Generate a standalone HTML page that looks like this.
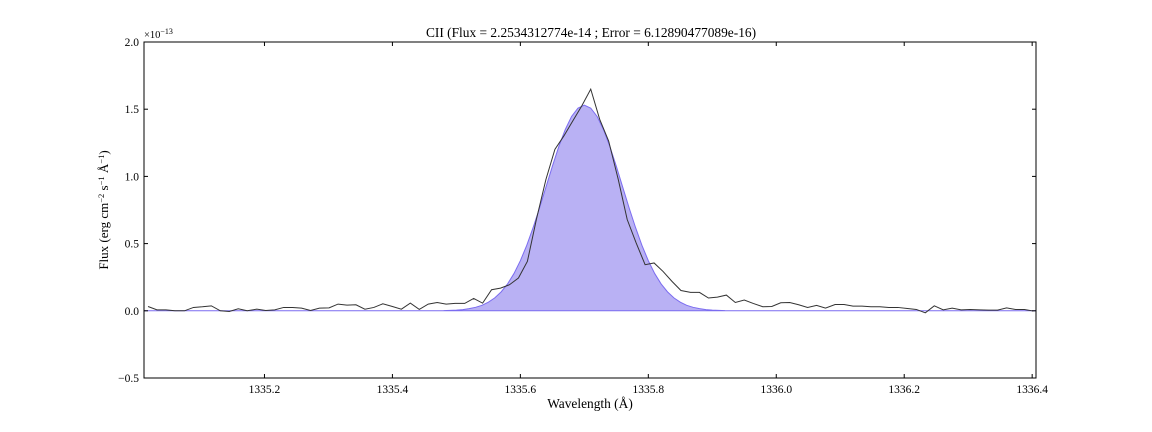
<!DOCTYPE html>
<html><head><meta charset="utf-8"><style>
body{margin:0;background:#fff}
svg{display:block;font-family:"Liberation Serif","DejaVu Serif",serif}
</style></head><body>
<svg id="chart" width="1152" height="432" viewBox="0 0 1152 432" xmlns="http://www.w3.org/2000/svg">
<rect width="1152" height="432" fill="#fff"/>
<defs><clipPath id="plotclip"><rect x="144" y="42" width="892" height="336"/></clipPath></defs>
<text x="591" y="37" font-size="13.4" text-anchor="middle">CII (Flux = 2.2534312774e-14 ; Error = 6.12890477089e-16)</text>
<text x="144" y="38" font-size="10.5">×10<tspan dy="-4" font-size="8">−13</tspan></text>
<g id="plot" clip-path="url(#plotclip)"></g>
<g id="axes"></g>
<text x="590" y="408" font-size="13.4" text-anchor="middle">Wavelength (Å)</text>
<text transform="translate(108,210) rotate(-90)" font-size="13" text-anchor="middle">Flux (erg cm<tspan dy="-4" font-size="8.5">−2</tspan><tspan dy="4"> s</tspan><tspan dy="-4" font-size="8.5">−1</tspan><tspan dy="4"> Å</tspan><tspan dy="-4" font-size="8.5">−1</tspan><tspan dy="4">)</tspan></text>
</svg>
<script>
const wavelengths=[1335.018,1335.032,1335.046,1335.060,1335.075,1335.089,1335.103,1335.117,1335.131,1335.145,1335.159,1335.173,1335.188,1335.202,1335.216,1335.230,1335.244,1335.258,1335.272,1335.286,1335.301,1335.315,1335.329,1335.343,1335.357,1335.371,1335.385,1335.400,1335.414,1335.428,1335.442,1335.456,1335.470,1335.484,1335.498,1335.513,1335.527,1335.541,1335.555,1335.569,1335.583,1335.597,1335.611,1335.625,1335.640,1335.654,1335.668,1335.682,1335.696,1335.710,1335.724,1335.738,1335.753,1335.767,1335.781,1335.795,1335.809,1335.823,1335.837,1335.851,1335.866,1335.880,1335.894,1335.908,1335.922,1335.936,1335.950,1335.964,1335.979,1335.993,1336.007,1336.021,1336.035,1336.049,1336.063,1336.077,1336.092,1336.106,1336.120,1336.134,1336.148,1336.162,1336.176,1336.190,1336.205,1336.219,1336.233,1336.247,1336.261,1336.275,1336.289,1336.303,1336.318,1336.332,1336.346,1336.360,1336.374,1336.388,1336.402];
const fluxValues=[0.032,0.007,0.007,0,0,0.025,0.030,0.037,0,-0.005,0.015,0,0.012,0.002,0.007,0.025,0.025,0.020,0.002,0.020,0.022,0.050,0.042,0.045,0.012,0.025,0.052,0.032,0.012,0.057,0.010,0.050,0.062,0.050,0.055,0.055,0.092,0.057,0.157,0.169,0.194,0.244,0.368,0.679,0.978,1.201,1.301,1.413,1.525,1.649,1.425,1.263,0.978,0.679,0.505,0.343,0.356,0.293,0.219,0.151,0.137,0.137,0.095,0.102,0.117,0.062,0.080,0.055,0.030,0.032,0.060,0.062,0.045,0.025,0.040,0.020,0.047,0.047,0.035,0.035,0.030,0.030,0.025,0.025,0.017,0.010,-0.015,0.037,0.007,0.020,0.007,0.010,0.007,0.005,0.005,0.022,0.010,0.010,-0.002];
const modelWavelengths=[1335.00,1335.45,1335.48,1335.50,1335.51,1335.52,1335.53,1335.54,1335.55,1335.56,1335.57,1335.58,1335.59,1335.60,1335.61,1335.62,1335.63,1335.64,1335.65,1335.66,1335.67,1335.68,1335.69,1335.70,1335.71,1335.72,1335.73,1335.74,1335.75,1335.76,1335.77,1335.78,1335.79,1335.80,1335.81,1335.82,1335.83,1335.84,1335.85,1335.86,1335.87,1335.88,1335.89,1335.90,1335.92,1335.95,1336.42];
const modelValues=[0,0,0.001,0.005,0.009,0.016,0.026,0.041,0.064,0.096,0.141,0.200,0.277,0.373,0.487,0.620,0.766,0.920,1.075,1.221,1.347,1.446,1.508,1.530,1.508,1.446,1.347,1.221,1.075,0.920,0.766,0.620,0.487,0.373,0.277,0.200,0.141,0.096,0.064,0.041,0.026,0.016,0.009,0.005,0.001,0,0];
const xTicks=[1335.2,1335.4,1335.6,1335.8,1336.0,1336.2,1336.4];
const xTickLabels=["1335.2","1335.4","1335.6","1335.8","1336.0","1336.2","1336.4"];
const yTicks=[-0.5,0,0.5,1.0,1.5,2.0];
const yTickLabels=["−0.5","0.0","0.5","1.0","1.5","2.0"];

const X0=144,X1=1036,Y0=42,Y1=378,XMIN=1335.0117,XMAX=1336.406,YMIN=-0.5,YMAX=2.0;
const xs=v=>X0+(v-XMIN)/(XMAX-XMIN)*(X1-X0);
const ys=v=>Y1-(v-YMIN)/(YMAX-YMIN)*(Y1-Y0);
const NS="http://www.w3.org/2000/svg";
function mk(tag,attrs,parent){const e=document.createElementNS(NS,tag);for(const k in attrs)e.setAttribute(k,attrs[k]);parent.appendChild(e);return e;}
const plot=document.getElementById('plot'),axes=document.getElementById('axes');

let d=`M${xs(modelWavelengths[0])},${ys(0)}`;
modelWavelengths.forEach((w,i)=>{d+=` L${xs(w).toFixed(2)},${ys(modelValues[i]).toFixed(2)}`;});
d+=` L${xs(modelWavelengths[modelWavelengths.length-1])},${ys(0)} Z`;
const fill=mk('path',{d:d,fill:'#b9b1f4',stroke:'#7b6cf0','stroke-width':1},plot);



const pts=wavelengths.map((w,i)=>`${xs(w).toFixed(2)},${ys(fluxValues[i]).toFixed(2)}`).join(' ');
const line=mk('polyline',{points:pts,fill:'none',stroke:'#333','stroke-width':1},plot);



const frame=mk('rect',{x:X0,y:Y0,width:X1-X0,height:Y1-Y0,fill:'none',stroke:'#000','stroke-width':1},axes);



xTicks.forEach((t,i)=>{
  const x=xs(t);
  mk('line',{x1:x,x2:x,y1:Y1,y2:Y1-4,stroke:'#000'},axes);
  mk('line',{x1:x,x2:x,y1:Y0,y2:Y0+4,stroke:'#000'},axes);
  const lb=mk('text',{x:x,y:Y1+15,'font-size':11.5,'text-anchor':'middle'},axes);
  lb.textContent=xTickLabels[i];
  
  
});
yTicks.forEach((t,i)=>{
  const y=ys(t);
  mk('line',{x1:X0,x2:X0+4,y1:y,y2:y,stroke:'#000'},axes);
  mk('line',{x1:X1,x2:X1-4,y1:y,y2:y,stroke:'#000'},axes);
  const lb=mk('text',{x:X0-5,y:y+4,'font-size':11.5,'text-anchor':'end'},axes);
  lb.textContent=yTickLabels[i];
  
  
});
</script>
</body></html>
